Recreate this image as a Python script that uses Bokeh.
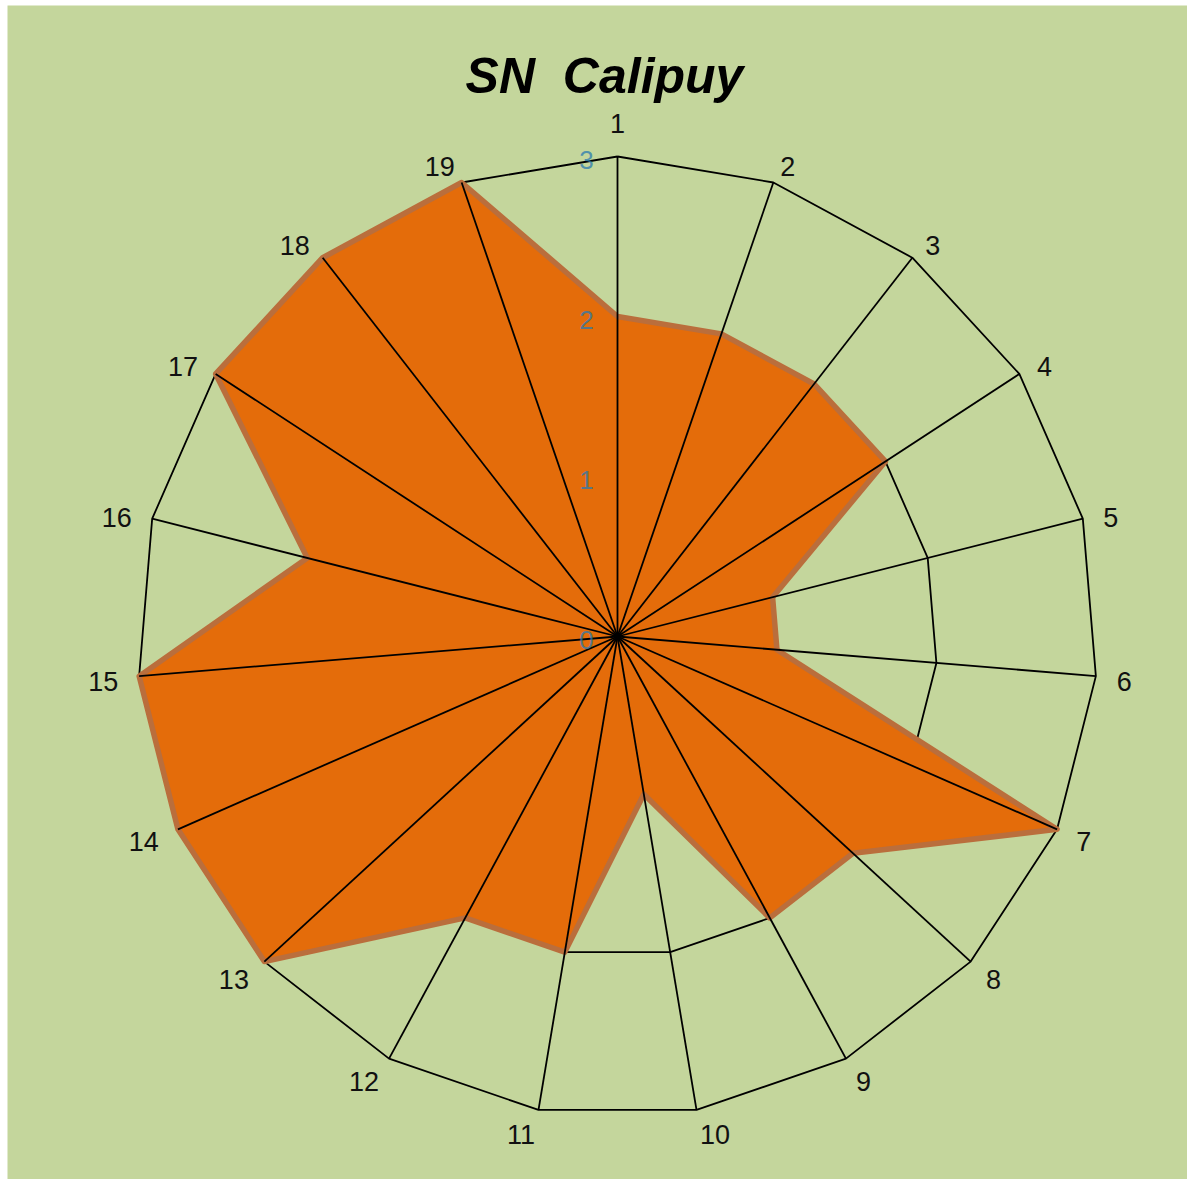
import math
from bokeh.plotting import figure
from bokeh.models import Range1d, ColumnDataSource
from bokeh.core.properties import value
from bokeh.embed import file_html
from bokeh.resources import INLINE

# ---- data ----
title_text = "SN \u00a0Calipuy"
categories = ["1", "2", "3", "4", "5", "6", "7", "8", "9", "10",
              "11", "12", "13", "14", "15", "16", "17", "18", "19"]
values = [2, 2, 2, 2, 1, 1, 3, 2, 2, 1, 2, 2, 3, 3, 3, 2, 3, 3, 3]
tick_values = [0, 1, 2, 3]
tick_labels = ["0", "1", "2", "3"]
max_value = 3

# ---- layout ----
W, H = 1187, 1179
BL, BT = 7, 5               # white strip left / top
PX = 160.0                  # pixels per unit
CX, CY = 617, 636           # center in figure pixels
BG = "#C4D69C"
LABEL_R = 501 / PX

p = figure(width=W, height=H, output_backend="svg", toolbar_location=None,
           x_range=Range1d((BL - CX) / PX, (W - CX) / PX),
           y_range=Range1d(-(H - CY) / PX, (CY - BT) / PX),
           min_border_left=BL, min_border_top=BT,
           min_border_right=0, min_border_bottom=0)
p.axis.visible = False
p.grid.visible = False
p.outline_line_color = None
p.background_fill_color = BG
p.border_fill_color = "white"

n = len(categories)
angles = [math.pi / 2 - 2 * math.pi * i / n for i in range(n)]

def pt(r, a):
    return r * math.cos(a), r * math.sin(a)

# grid polygons
for lv in tick_values[1:]:
    xs = [pt(lv, a)[0] for a in angles] + [pt(lv, angles[0])[0]]
    ys = [pt(lv, a)[1] for a in angles] + [pt(lv, angles[0])[1]]
    p.line(xs, ys, line_color="black", line_width=1.8)

# data polygon
dx = [pt(v, a)[0] for v, a in zip(values, angles)]
dy = [pt(v, a)[1] for v, a in zip(values, angles)]
p.patch(dx, dy, fill_color="#E46C0A", line_color="#BA6E3C", line_width=5.5,
        line_join="round")

# spokes
for a in angles:
    ex, ey = pt(max_value, a)
    p.line([0, ex], [0, ey], line_color="black", line_width=1.8)

# category labels (aligned outward from the anchor point)
lx, ly, aligns, yoffs = [], [], [], []
for a in angles:
    x, y = pt(LABEL_R, a)
    lx.append(x)
    ly.append(y)
    c = math.cos(a)
    if abs(c) < 1e-6:
        aligns.append("center")
        yoffs.append(-12)
    else:
        aligns.append("left" if c > 0 else "right")
        yoffs.append(4)
src = ColumnDataSource(dict(x=lx, y=ly, text=categories, align=aligns,
                            yoff=yoffs))
p.text("x", "y", text="text", source=src, text_align="align",
       text_baseline="middle", y_offset="yoff",
       text_font=value("Liberation Sans"), text_font_size="27px",
       text_color="#111111")

# tick labels along first axis
p.text([0] * len(tick_values), [v - 0.02 for v in tick_values], text=tick_labels,
       x_offset=-31, text_align="center", text_baseline="middle",
       text_font=value("Liberation Sans"), text_font_size="26px",
       text_color="#2A7AB0", text_alpha=0.75)

# title
p.text([(604 - CX) / PX], [(CY - 75) / PX], text=[title_text],
       text_align="center", text_baseline="middle",
       text_font=value("Liberation Sans"), text_font_size="50px",
       text_font_style="bold italic", text_color="black")

open("out.html", "w").write(file_html(p, INLINE))
